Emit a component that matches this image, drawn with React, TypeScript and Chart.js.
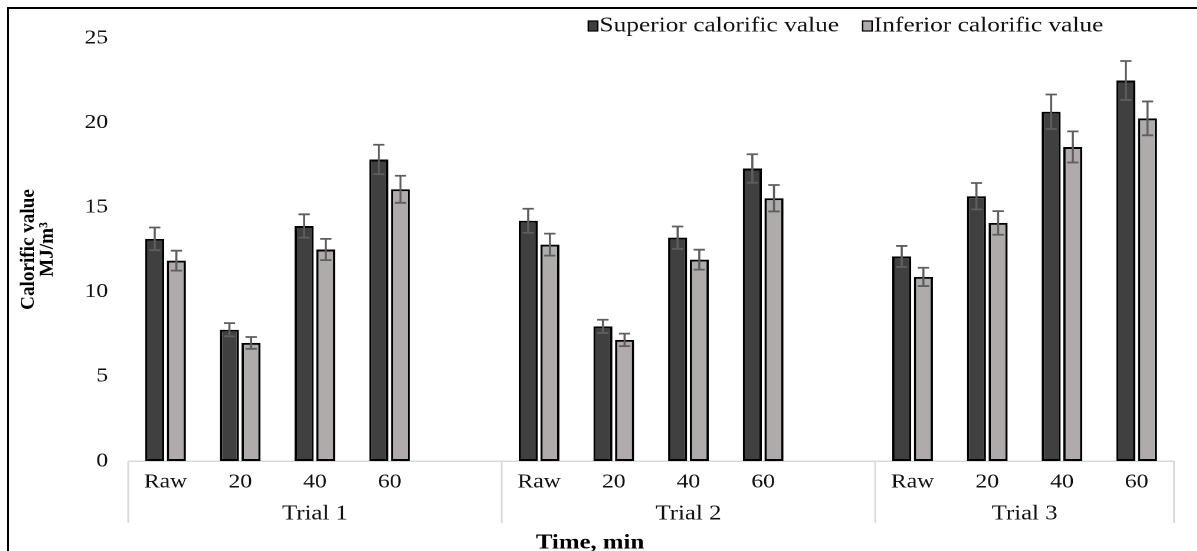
import React, { useEffect, useRef } from 'react';
import { Chart, registerables } from 'chart.js';

Chart.register(...registerables);

const timeLabels = ['Raw', '20', '40', '60'];
const trialLabels = ['Trial 1', 'Trial 2', 'Trial 3'];
const seriesNames = ['Superior calorific value', 'Inferior calorific value'];
const yTitleLines = ['Calorific value', 'MJ/m³'];
const xTitle = 'Time, min';
const superiorValues = [13.13, 7.76, 13.89, 17.82, 14.2, 7.96, 13.2, 17.29, 12.09, 15.65, 20.64, 22.49];
const superiorErrors = [0.67, 0.39, 0.69, 0.87, 0.71, 0.39, 0.66, 0.84, 0.62, 0.78, 1.02, 1.15];
const inferiorValues = [11.84, 6.98, 12.5, 16.06, 12.79, 7.16, 11.9, 15.53, 10.88, 14.07, 18.56, 20.25];
const inferiorErrors = [0.59, 0.35, 0.63, 0.8, 0.65, 0.37, 0.59, 0.78, 0.54, 0.7, 0.92, 1.0];
const yTicks = [0, 5, 10, 15, 20, 25];

const SCALE_X = 1.18;
const W0 = 1007;
const H0 = 542;
const FONT = "'Liberation Serif', 'Times New Roman', serif";

// build slots with a blank slot between trials
const slotLabels: string[] = [];
const slotSup: (number | null)[] = [];
const slotInf: (number | null)[] = [];
const slotSupErr: (number | null)[] = [];
const slotInfErr: (number | null)[] = [];
const groupStarts: number[] = [];
trialLabels.forEach((_, t) => {
  groupStarts.push(slotLabels.length);
  timeLabels.forEach((lab, i) => {
    const k = t * timeLabels.length + i;
    slotLabels.push(lab);
    slotSup.push(superiorValues[k]);
    slotInf.push(inferiorValues[k]);
    slotSupErr.push(superiorErrors[k]);
    slotInfErr.push(inferiorErrors[k]);
  });
  if (t < trialLabels.length - 1) {
    slotLabels.push('');
    slotSup.push(null);
    slotInf.push(null);
    slotSupErr.push(null);
    slotInfErr.push(null);
  }
});
const errorsByDataset = [slotSupErr, slotInfErr];

const errorBarPlugin = {
  id: 'errorBars',
  afterDatasetsDraw(chart: any) {
    const ctx = chart.ctx;
    const y = chart.scales.y;
    ctx.save();
    ctx.strokeStyle = '#5e5e5e';
    ctx.lineWidth = 1.8;
    chart.data.datasets.forEach((ds: any, d: number) => {
      const meta = chart.getDatasetMeta(d);
      meta.data.forEach((el: any, i: number) => {
        const v = ds.data[i];
        const e = errorsByDataset[d][i];
        if (v == null || e == null) return;
        const top = y.getPixelForValue(v + e);
        const bot = y.getPixelForValue(v - e);
        const hw = 4.8;
        ctx.beginPath();
        ctx.moveTo(el.x, top);
        ctx.lineTo(el.x, bot);
        ctx.moveTo(el.x - hw, top);
        ctx.lineTo(el.x + hw, top);
        ctx.moveTo(el.x - hw, bot);
        ctx.lineTo(el.x + hw, bot);
        ctx.stroke();
      });
    });
    ctx.restore();
  },
};

const decorPlugin = {
  id: 'decor',
  afterDraw(chart: any) {
    const ctx = chart.ctx;
    const area = chart.chartArea;
    const n = slotLabels.length;
    const slotW = (area.right - area.left) / n;
    const bnd = (k: number) => area.left + k * slotW;
    ctx.save();
    // separators
    const boundaries = [...groupStarts, n];
    ctx.strokeStyle = '#d9d9d9';
    ctx.lineWidth = 1.5;
    boundaries.forEach((k) => {
      const xpos = bnd(k);
      ctx.beginPath();
      ctx.moveTo(xpos, area.bottom);
      ctx.lineTo(xpos, area.bottom + 62);
      ctx.stroke();
    });
    // group labels
    ctx.fillStyle = '#111';
    ctx.font = `21px ${FONT}`;
    ctx.textAlign = 'center';
    ctx.textBaseline = 'middle';
    trialLabels.forEach((lab, g) => {
      const s = groupStarts[g];
      const e = g + 1 < groupStarts.length ? groupStarts[g + 1] : n;
      ctx.fillText(lab, (bnd(s) + bnd(e)) / 2, area.bottom + 53);
    });
    // x title
    ctx.fillStyle = '#000';
    ctx.font = `bold 21px ${FONT}`;
    ctx.fillText(xTitle, chart.width * 0.489, area.bottom + 82);
    // y title (condensed, rotated)
    const cy = (area.top + area.bottom) / 2;
    ctx.font = `bold 16.5px ${FONT}`;
    yTitleLines.forEach((line, i) => {
      ctx.save();
      ctx.translate(16.5 + i * 16, cy);
      ctx.rotate(-Math.PI / 2);
      ctx.scale(1.16, 1);
      ctx.fillText(line, 0, 0);
      ctx.restore();
    });
    // legend
    ctx.font = `21.5px ${FONT}`;
    ctx.textAlign = 'left';
    const colors = chart.data.datasets.map((d: any) => d.backgroundColor);
    let lx = chart.width * 0.4875;
    const ly = 17;
    seriesNames.forEach((name, i) => {
      ctx.fillStyle = colors[i];
      ctx.fillRect(lx, ly - 5, 8, 10);
      ctx.strokeStyle = '#000';
      ctx.lineWidth = 1.2;
      ctx.strokeRect(lx, ly - 5, 8, 10);
      ctx.fillStyle = '#111';
      ctx.fillText(name, lx + 9.5, ly);
      lx += 9.5 + ctx.measureText(name).width + 20;
    });
    ctx.restore();
  },
};

export default function App() {
  const ref = useRef<HTMLCanvasElement | null>(null);
  useEffect(() => {
    document.documentElement.style.overflow = 'hidden';
    document.body.style.overflow = 'hidden';
    Chart.defaults.font.family = FONT;
    const chart = new Chart(ref.current as HTMLCanvasElement, {
      type: 'bar',
      data: {
        labels: slotLabels,
        datasets: [
          {
            label: seriesNames[0],
            data: slotSup,
            backgroundColor: '#404040',
            borderColor: '#000',
            borderWidth: 2,
            borderSkipped: false,
            categoryPercentage: 0.58,
            barPercentage: 0.88,
          },
          {
            label: seriesNames[1],
            data: slotInf,
            backgroundColor: '#afabab',
            borderColor: '#000',
            borderWidth: 2,
            borderSkipped: false,
            categoryPercentage: 0.58,
            barPercentage: 0.88,
          },
        ],
      },
      options: {
        responsive: false,
        animation: false,
        devicePixelRatio: 2,
        layout: { padding: { top: 26, left: 0, right: 19.7, bottom: 0 } },
        plugins: {
          legend: { display: false },
          tooltip: { enabled: false },
        },
        scales: {
          x: {
            grid: { display: false, drawTicks: false },
            border: { display: true, color: '#d9d9d9', width: 1.5 },
            ticks: {
              autoSkip: false,
              maxRotation: 0,
              padding: 9,
              color: '#111',
              font: { size: 20, family: FONT },
            },
            afterFit(scale: any) {
              scale.height = 90;
            },
          },
          y: {
            min: 0,
            max: 25,
            grid: { display: false, drawTicks: false },
            border: { display: false },
            afterBuildTicks(scale: any) {
              scale.ticks = yTicks.map((v) => ({ value: v }));
            },
            ticks: {
              padding: 17,
              color: '#111',
              font: { size: 20, family: FONT },
            },
            afterFit(scale: any) {
              scale.width = 101;
            },
          },
        },
      },
      plugins: [errorBarPlugin, decorPlugin],
    } as any);
    return () => chart.destroy();
  }, []);

  return (
    <div
      style={{
        position: 'fixed',
        left: 7,
        top: 7,
        width: 1190,
        height: 544,
        borderTop: '2px solid #000',
        borderLeft: '2px solid #000',
        boxSizing: 'border-box',
        overflow: 'hidden',
        background: '#fff',
      }}
    >
      <div
        style={{
          position: 'absolute',
          left: 0,
          top: 0,
          width: W0,
          height: H0,
          transform: `scaleX(${SCALE_X})`,
          transformOrigin: '0 0',
        }}
      >
        <canvas ref={ref} width={W0} height={H0} style={{ width: W0, height: H0, display: 'block' }} />
      </div>
    </div>
  );
}
